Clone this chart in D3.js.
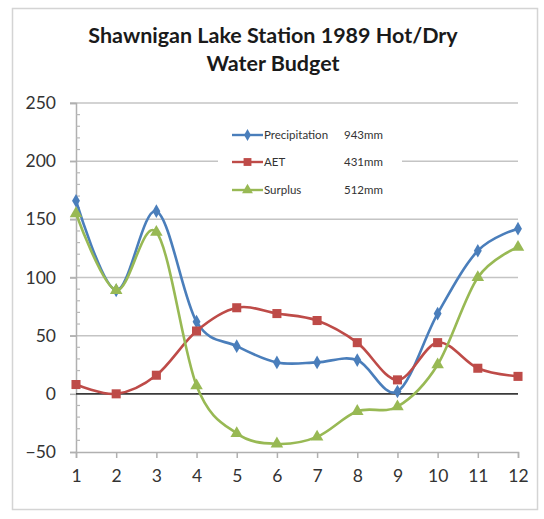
<!DOCTYPE html>
<html>
<head>
<meta charset="utf-8">
<script src="https://cdn.jsdelivr.net/npm/d3@7"></script>
<style>
  html, body { margin: 0; padding: 0; background: #fff; }
  svg { display: block; font-family: Lato, "Open Sans", sans-serif; }
</style>
</head>
<body>
<svg id="chart" width="544" height="519"></svg>
<script>
// Monthly water budget, Shawnigan Lake Station, 1989 (mm)
const months = [1, 2, 3, 4, 5, 6, 7, 8, 9, 10, 11, 12];
const precipitation = [166, 89, 157, 62, 41, 27, 27, 29, 2, 69, 123, 142];
const aet = [8, 0, 16, 54, 74, 69, 63, 44, 12, 44, 22, 15];
const surplus = [155, 89, 139, 7, -34, -43, -37, -15, -11, 25, 100, 126];
const seriesNames = ["Precipitation", "AET", "Surplus"];
const seriesTotals = ["943mm", "431mm", "512mm"];
const yTicks = [-50, 0, 50, 100, 150, 200, 250];

const colors = ["#4A7EBB", "#BE4B48", "#98B954"];
const symbols = [d3.symbolDiamond, d3.symbolSquare, d3.symbolTriangle];
const symbolSizes = [54, 82, 68];

const svg = d3.select("#chart");
const plot = { left: 76, right: 518, top: 103, bottom: 452 };

// outer chart border
svg.append("rect")
  .attr("x", 12.5).attr("y", 8.5)
  .attr("width", 525).attr("height", 501)
  .attr("fill", "#fff").attr("stroke", "#D4D4D4").attr("stroke-width", 1.5);

// title
const title = svg.append("text")
  .attr("text-anchor", "middle")
  .attr("font-weight", "bold").attr("font-size", 21.5).attr("fill", "#1a1a1a");
title.append("tspan").attr("x", 273).attr("y", 43).text("Shawnigan Lake Station 1989 Hot/Dry");
title.append("tspan").attr("x", 273).attr("y", 71).text("Water Budget");

const x = d3.scaleLinear().domain([1, 12]).range([plot.left, plot.right]);
const y = d3.scaleLinear().domain([-50, 250]).range([plot.bottom, plot.top]);

// horizontal gridlines
svg.append("g")
  .selectAll("line").data(yTicks.filter(d => d !== -50 && d !== 0)).join("line")
  .attr("x1", plot.left - 6).attr("x2", plot.right)
  .attr("y1", d => y(d)).attr("y2", d => y(d))
  .attr("stroke", "#C4C4C4").attr("stroke-width", 1.5);

// y axis with major ticks outside and minor ticks every 10
const yAxis = svg.append("g").attr("transform", `translate(${plot.left},0)`)
  .call(d3.axisLeft(y).tickValues(yTicks).tickSize(6).tickPadding(14));
yAxis.select(".domain").attr("stroke", "#B0B0B0").attr("stroke-width", 1.5);
yAxis.selectAll(".tick line").attr("stroke", "#B0B0B0").attr("stroke-width", 1.5);
yAxis.selectAll(".tick text").attr("font-size", 17.5).attr("fill", "#333")
  .attr("font-family", "Lato, sans-serif");

const minor = d3.range(-50, 251, 10).filter(v => v % 50 !== 0);
svg.append("g").selectAll("line").data(minor).join("line")
  .attr("x1", plot.left).attr("x2", plot.left + 4)
  .attr("y1", d => y(d)).attr("y2", d => y(d))
  .attr("stroke", "#B8B8B8").attr("stroke-width", 1.2);

// x axis along the bottom
const xAxis = svg.append("g").attr("transform", `translate(0,${plot.bottom})`)
  .call(d3.axisBottom(x).tickValues(months).tickFormat(d3.format("d")).tickSize(6).tickPadding(12));
xAxis.select(".domain").attr("stroke", "#B0B0B0").attr("stroke-width", 1.5);
xAxis.selectAll(".tick line").attr("stroke", "#B0B0B0").attr("stroke-width", 1.5);
xAxis.selectAll(".tick text").attr("font-size", 17.5).attr("fill", "#333")
  .attr("font-family", "Lato, sans-serif");

// zero line
svg.append("line")
  .attr("x1", plot.left).attr("x2", plot.right)
  .attr("y1", y(0)).attr("y2", y(0))
  .attr("stroke", "#3a3a3a").attr("stroke-width", 1.8);

// legend box
const legend = svg.append("g");
legend.append("rect")
  .attr("x", 218).attr("y", 117).attr("width", 184).attr("height", 88)
  .attr("fill", "#fff");

// series lines and markers
const series = [precipitation, aet, surplus];
const line = d3.line()
  .x((d, i) => x(months[i]))
  .y(d => y(d))
  .curve(d3.curveCardinal.tension(0));

series.forEach((vals, s) => {
  svg.append("path")
    .attr("d", line(vals))
    .attr("fill", "none")
    .attr("stroke", colors[s]).attr("stroke-width", 2.6)
    .attr("stroke-linejoin", "round");
  svg.append("g").selectAll("path").data(vals).join("path")
    .attr("transform", (d, i) => `translate(${x(months[i])},${y(d)})`)
    .attr("d", d3.symbol().type(symbols[s]).size(symbolSizes[s])())
    .attr("fill", colors[s]);
});

// legend entries
const rowsY = [135, 162, 190];
seriesNames.forEach((name, s) => {
  const g = legend.append("g").attr("transform", `translate(0,${rowsY[s]})`);
  g.append("line").attr("x1", 232).attr("x2", 263).attr("y1", 0).attr("y2", 0)
    .attr("stroke", colors[s]).attr("stroke-width", 2.4);
  g.append("path").attr("transform", "translate(247.5,0)")
    .attr("d", d3.symbol().type(symbols[s]).size(symbolSizes[s] * 0.75)())
    .attr("fill", colors[s]);
  g.append("text").attr("x", 264).attr("y", 4).attr("font-size", 11.5)
    .attr("fill", "#333").text(name);
  g.append("text").attr("x", 344).attr("y", 4).attr("font-size", 11.5)
    .attr("fill", "#333").text(seriesTotals[s]);
});
</script>
</body>
</html>
